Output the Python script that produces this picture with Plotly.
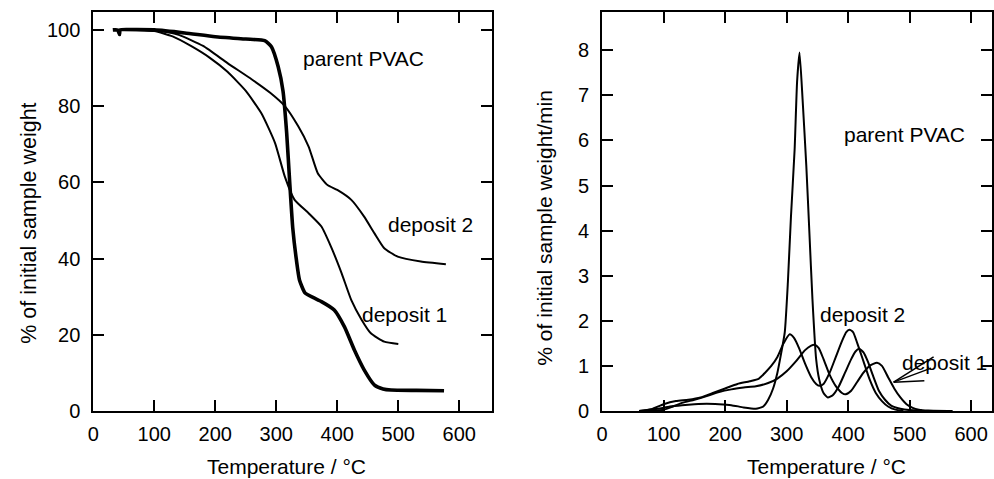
import plotly.graph_objects as go

# ---- TGA: weight remaining (% of initial sample weight) vs temperature ----
tga_parent_T = [32, 40, 43, 44, 60, 100, 150, 200, 250, 281, 292, 303, 311, 317, 322, 327, 333,
                338, 347, 360, 374, 395, 412, 428, 444, 461, 475, 488, 530, 575]
tga_parent_W = [100, 100, 98.8, 100, 100.1, 100, 99.2, 98.2, 97.6, 97.2, 95.6, 90.4, 84, 73, 60, 48,
                39.6, 34.4, 31, 29.8, 28.7, 26.5, 22, 16, 10.8, 6.8, 5.8, 5.5, 5.4, 5.3]

tga_dep2_T = [50, 100, 140, 180, 220, 260, 290, 314, 336, 353, 368, 384, 400, 423, 444, 461, 477,
              499, 537, 578]
tga_dep2_W = [100, 100, 98.7, 95.8, 91.3, 87.0, 83.5, 80, 74.7, 69.4, 62.4, 59.3, 58, 55.4, 51,
              46.6, 42.7, 40.5, 39.2, 38.5]

tga_dep1_T = [50, 100, 130, 160, 190, 220, 250, 276, 298, 314, 330, 353, 374, 390, 407, 423, 440,
              455, 477, 500]
tga_dep1_W = [100, 99.7, 98.3, 95.8, 92.8, 89.0, 84.0, 78, 70.3, 61.5, 55.4, 51.9, 48.4, 43,
              36.2, 29.1, 23.9, 20.4, 18.2, 17.6]

# ---- DTG: weight-loss rate (% of initial sample weight per min) vs temperature ----
dtg_parent_T = [60, 90, 110, 130, 150, 170, 190, 210, 230, 250, 262, 270, 278, 285, 290, 297,
                302, 307, 313, 317, 321, 326, 332, 337, 342, 348, 353, 360, 367, 375, 385, 395,
                405, 412, 418, 425, 432, 440, 450, 460, 470, 485, 500, 520]
dtg_parent_R = [0.0, 0.05, 0.1, 0.13, 0.15, 0.16, 0.15, 0.13, 0.08, 0.05, 0.1, 0.25, 0.5, 0.85,
                1.2, 1.75, 2.85, 4.3, 5.8, 7.3, 7.95, 6.9, 5.44, 3.96, 2.48, 1.15, 0.7, 0.4, 0.3,
                0.35, 0.55, 0.85, 1.15, 1.32, 1.38, 1.3, 1.1, 0.8, 0.45, 0.25, 0.12, 0.05, 0.02,
                0.01]

dtg_dep1_T = [60, 80, 100, 120, 140, 160, 180, 200, 220, 240, 255, 265, 275, 285, 295, 305, 312,
              320, 330, 340, 348, 353, 360, 370, 380, 390, 397, 402, 408, 415, 425, 435, 445,
              455, 465, 477, 490]
dtg_dep1_R = [0.0, 0.04, 0.15, 0.22, 0.25, 0.3, 0.4, 0.5, 0.6, 0.66, 0.72, 0.85, 1.0, 1.2, 1.5,
              1.7, 1.62, 1.4, 1.05, 0.75, 0.6, 0.56, 0.6, 0.85, 1.2, 1.55, 1.75, 1.8, 1.75, 1.5,
              1.1, 0.7, 0.4, 0.22, 0.1, 0.03, 0.01]

dtg_dep2_T = [60, 100, 115, 130, 150, 170, 190, 210, 230, 250, 270, 285, 300, 315, 330, 340, 345,
              352, 360, 370, 380, 390, 396, 405, 415, 425, 435, 447, 455, 465, 475, 485, 495,
              505, 515, 530, 570]
dtg_dep2_R = [0.0, 0.03, 0.1, 0.18, 0.25, 0.33, 0.42, 0.48, 0.52, 0.55, 0.62, 0.72, 0.88, 1.1,
              1.35, 1.45, 1.47, 1.4, 1.15, 0.8, 0.55, 0.4, 0.37, 0.45, 0.65, 0.85, 1.0, 1.07, 1.0,
              0.75, 0.5, 0.3, 0.15, 0.07, 0.03, 0.01, 0.0]

x_ticks = [0, 100, 200, 300, 400, 500, 600]
tga_ticks = [0, 20, 40, 60, 80, 100]
dtg_ticks = [0, 1, 2, 3, 4, 5, 6, 7, 8]

FONT = "Liberation Sans, Arial, sans-serif"
W, H = 994, 479
TOP, BOTTOM = 12, 68

fig = go.Figure()

line_thin = dict(color="black", width=2)
fig.add_trace(go.Scatter(x=tga_parent_T, y=tga_parent_W, mode="lines", name="parent PVAC",
                         line=dict(color="black", width=3.6, shape="spline", smoothing=0.5),
                         xaxis="x", yaxis="y"))
fig.add_trace(go.Scatter(x=tga_dep2_T, y=tga_dep2_W, mode="lines", name="deposit 2",
                         line=dict(line_thin, shape="spline", smoothing=0.5), xaxis="x", yaxis="y"))
fig.add_trace(go.Scatter(x=tga_dep1_T, y=tga_dep1_W, mode="lines", name="deposit 1",
                         line=dict(line_thin, shape="spline", smoothing=0.5), xaxis="x", yaxis="y"))

fig.add_trace(go.Scatter(x=dtg_parent_T, y=dtg_parent_R, mode="lines", name="parent PVAC",
                         line=dict(line_thin, shape="spline", smoothing=0.5), xaxis="x2", yaxis="y2"))
fig.add_trace(go.Scatter(x=dtg_dep1_T, y=dtg_dep1_R, mode="lines", name="deposit 1",
                         line=dict(line_thin, shape="spline", smoothing=0.6), xaxis="x2", yaxis="y2"))
fig.add_trace(go.Scatter(x=dtg_dep2_T, y=dtg_dep2_R, mode="lines", name="deposit 2",
                         line=dict(line_thin, shape="spline", smoothing=0.6), xaxis="x2", yaxis="y2"))

axis_common = dict(showgrid=False, zeroline=False, showline=True, linecolor="black", linewidth=2,
                   mirror="ticks", ticks="inside", ticklen=11, tickwidth=2, tickcolor="black",
                   tickfont=dict(family=FONT, size=20, color="black"))

fig.update_layout(
    width=W, height=H,
    margin=dict(l=0, r=0, t=TOP, b=BOTTOM),
    paper_bgcolor="white", plot_bgcolor="white",
    showlegend=False,
    xaxis=dict(axis_common, domain=[88 / W, 490 / W], range=[0, 653.7], tickvals=x_ticks,
               anchor="y", ticklabelstandoff=4),
    yaxis=dict(axis_common, domain=[0, 1], range=[0, 104.7], tickvals=tga_ticks,
               anchor="x", ticklabelstandoff=7),
    xaxis2=dict(axis_common, domain=[601 / W, 1.0], range=[0, 634], tickvals=x_ticks,
                anchor="y2", ticklabelstandoff=4),
    yaxis2=dict(axis_common, domain=[0, 1], range=[0, 8.85], tickvals=dtg_ticks,
                anchor="x2", ticklabelstandoff=7),
)

plot_h = H - TOP - BOTTOM


def px_x(px):
    return px / W


def px_y(py):
    return (H - BOTTOM - py) / plot_h


title_font = dict(family=FONT, size=21, color="black")
label_font = dict(family=FONT, size=21, color="black")

annotations = [
    # axis titles
    dict(text="Temperature / °C", x=px_x(283), y=px_y(466), xref="paper", yref="paper",
         showarrow=False, font=title_font, xanchor="center", yanchor="middle"),
    dict(text="Temperature / °C", x=px_x(827), y=px_y(466), xref="paper", yref="paper",
         showarrow=False, font=title_font, xanchor="center", yanchor="middle"),
    dict(text="% of initial sample weight", x=px_x(23), y=px_y(223), xref="paper", yref="paper",
         showarrow=False, font=dict(title_font, size=21.5), textangle=-90,
         xanchor="center", yanchor="middle"),
    dict(text="% of initial sample weight/min", x=px_x(542), y=px_y(228), xref="paper",
         yref="paper", showarrow=False, font=title_font, textangle=-90,
         xanchor="center", yanchor="middle"),
    # curve labels, TGA panel
    dict(text="parent PVAC", x=340, y=92.4, xref="x", yref="y", showarrow=False,
         font=label_font, xanchor="left", yanchor="middle"),
    dict(text="deposit 2", x=479.7, y=49.0, xref="x", yref="y", showarrow=False,
         font=label_font, xanchor="left", yanchor="middle"),
    dict(text="deposit 1", x=437.4, y=25.4, xref="x", yref="y", showarrow=False,
         font=label_font, xanchor="left", yanchor="middle"),
    # curve labels, DTG panel
    dict(text="parent PVAC", x=390, y=6.14, xref="x2", yref="y2", showarrow=False,
         font=label_font, xanchor="left", yanchor="middle"),
    dict(text="deposit 2", x=351.6, y=2.15, xref="x2", yref="y2", showarrow=False,
         font=label_font, xanchor="left", yanchor="middle"),
    dict(text="deposit 1", x=px_x(991), y=1.07, xref="paper", yref="y2", showarrow=False,
         font=label_font, xanchor="right", yanchor="middle"),
]
fig.update_layout(annotations=annotations)

# leader lines from the "deposit 1" label in the DTG panel
leaders = [(474, 0.64, 539, 1.20), (474, 0.64, 535, 0.95), (474, 0.64, 524, 0.67)]
for x0, y0, x1, y1 in leaders:
    fig.add_shape(type="line", x0=x0, y0=y0, x1=x1, y1=y1, xref="x2", yref="y2",
                  line=dict(color="black", width=1.5))

fig.write_html("out.html")
